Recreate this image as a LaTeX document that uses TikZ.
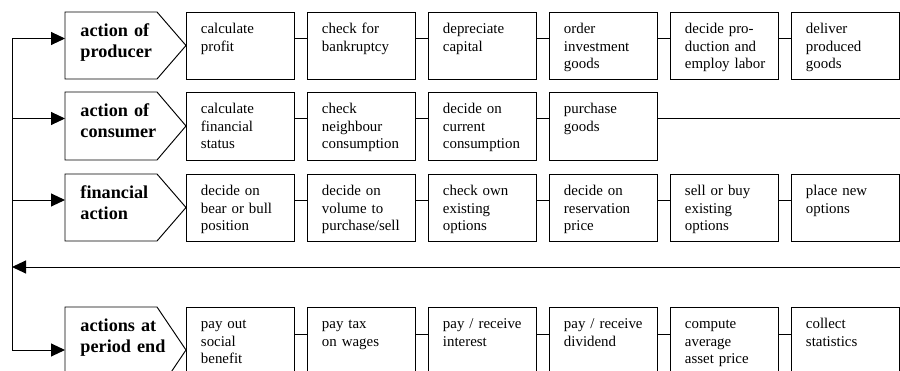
\documentclass[tikz,border=0pt]{standalone}
\usepackage{fontspec}
\setmainfont{Liberation Serif}
\usetikzlibrary{arrows.meta}
\begin{document}
\begin{tikzpicture}[x=1pt,y=-1pt,line width=0.95pt,
  box/.style={draw,rectangle,minimum width=108pt,minimum height=#1,inner sep=0pt,anchor=north west},
  box/.default=67pt,
  btxt/.style={anchor=north west,inner sep=0pt,text width=90pt,align=left,
    font=\fontsize{14.9}{17.5}\selectfont,execute at begin node=\strut},
  ltxt/.style={anchor=north west,inner sep=0pt,text width=100pt,align=left,
    font=\bfseries\fontsize{18.2}{21}\selectfont,execute at begin node=\strut},
  arr/.style={-{Triangle[length=14pt,width=13pt]}},
  conn/.style={draw}]
\useasboundingbox (0,0) rectangle (900,371);
\clip (0,0) rectangle (900,371);

% row connector levels (right edge coordinates)
\coordinate (c1) at (900,38.5);
\coordinate (c2) at (900,118.5);
\coordinate (c3) at (900,200);
\coordinate (c4) at (900,334);

% pentagon entry points and trunk
\coordinate (p1w) at (65,38.5);
\coordinate (p2w) at (65,118.5);
\coordinate (p3w) at (65,200);
\coordinate (p4w) at (65,350);
\coordinate (t1) at (12,38.5);
\coordinate (t2) at (12,118.5);
\coordinate (t3) at (12,200);
\coordinate (t4) at (12,350);
\coordinate (retR) at (900,267);
\coordinate (retL) at (12,267);

% pentagons
\draw (65,12) -- (157,12) -- (186,45.5) -- (157,79) -- (65,79) -- cycle;
\draw (65,92) -- (157,92) -- (186,126) -- (157,160) -- (65,160) -- cycle;
\draw (65,174) -- (157,174) -- (186,207.5) -- (157,241) -- (65,241) -- cycle;
\draw (65,307) -- (157,307) -- (186,350) -- (157,393) -- (65,393) -- cycle;

\node[ltxt] (l1) at (80,21.8) {action of\\producer};
\node[ltxt] (l2) at (80,101.8) {action of\\consumer};
\node[ltxt] (l3) at (80,183.8) {financial\\action};
\node[ltxt] (l4) at (80,316.8) {actions at\\period end};

% row 1
\node[box] (b11) at (186,12) {};
\node[box] (b12) at (307,12) {};
\node[box] (b13) at (428,12) {};
\node[box] (b14) at (549,12) {};
\node[box] (b15) at (670,12) {};
\node[box] (b16) at (791,12) {};
% row 2
\node[box=68pt] (b21) at (186,92) {};
\node[box=68pt] (b22) at (307,92) {};
\node[box=68pt] (b23) at (428,92) {};
\node[box=68pt] (b24) at (549,92) {};
% row 3
\node[box] (b31) at (186,174) {};
\node[box] (b32) at (307,174) {};
\node[box] (b33) at (428,174) {};
\node[box] (b34) at (549,174) {};
\node[box] (b35) at (670,174) {};
\node[box] (b36) at (791,174) {};
% row 4
\node[box=86pt] (b41) at (186,307) {};
\node[box=86pt] (b42) at (307,307) {};
\node[box=86pt] (b43) at (428,307) {};
\node[box=86pt] (b44) at (549,307) {};
\node[box=86pt] (b45) at (670,307) {};
\node[box=86pt] (b46) at (791,307) {};

% texts
\node[btxt] (x11) at ([shift={(14.5,9)}]b11.north west) {calculate\\profit};
\node[btxt] (x12) at ([shift={(14.5,9)}]b12.north west) {check for\\bankruptcy};
\node[btxt] (x13) at ([shift={(14.5,9)}]b13.north west) {depreciate\\capital};
\node[btxt] (x14) at ([shift={(14.5,9)}]b14.north west) {order\\investment\\goods};
\node[btxt] (x15) at ([shift={(14.5,9)}]b15.north west) {decide pro-\\duction and\\employ labor};
\node[btxt] (x16) at ([shift={(14.5,9)}]b16.north west) {deliver\\produced\\goods};

\node[btxt] (x21) at ([shift={(14.5,9)}]b21.north west) {calculate\\financial\\status};
\node[btxt] (x22) at ([shift={(14.5,9)}]b22.north west) {check\\neighbour\\consumption};
\node[btxt] (x23) at ([shift={(14.5,9)}]b23.north west) {decide on\\current\\consumption};
\node[btxt] (x24) at ([shift={(14.5,9)}]b24.north west) {purchase\\goods};

\node[btxt] (x31) at ([shift={(14.5,9)}]b31.north west) {decide on\\bear or bull\\position};
\node[btxt] (x32) at ([shift={(14.5,9)}]b32.north west) {decide on\\volume to\\purchase/sell};
\node[btxt] (x33) at ([shift={(14.5,9)}]b33.north west) {check own\\existing\\options};
\node[btxt] (x34) at ([shift={(14.5,9)}]b34.north west) {decide on\\reservation\\price};
\node[btxt] (x35) at ([shift={(14.5,9)}]b35.north west) {sell or buy\\existing\\options};
\node[btxt] (x36) at ([shift={(14.5,9)}]b36.north west) {place new\\options};

\node[btxt] (x41) at ([shift={(14.5,9)}]b41.north west) {pay out\\social\\benefit};
\node[btxt] (x42) at ([shift={(14.5,9)}]b42.north west) {pay tax\\on wages};
\node[btxt] (x43) at ([shift={(14.5,9)}]b43.north west) {pay / receive\\interest};
\node[btxt] (x44) at ([shift={(14.5,9)}]b44.north west) {pay / receive\\dividend};
\node[btxt] (x45) at ([shift={(14.5,9)}]b45.north west) {compute\\average\\asset price};
\node[btxt] (x46) at ([shift={(14.5,9)}]b46.north west) {collect\\statistics};

% connectors between boxes
\draw (b11.east |- c1) -- (b12.west |- c1);
\draw (b12.east |- c1) -- (b13.west |- c1);
\draw (b13.east |- c1) -- (b14.west |- c1);
\draw (b14.east |- c1) -- (b15.west |- c1);
\draw (b15.east |- c1) -- (b16.west |- c1);
\draw (b16.east |- c1) -- (c1);

\draw (b21.east |- c2) -- (b22.west |- c2);
\draw (b22.east |- c2) -- (b23.west |- c2);
\draw (b23.east |- c2) -- (b24.west |- c2);
\draw (b24.east |- c2) -- (c2);

\draw (b31.east |- c3) -- (b32.west |- c3);
\draw (b32.east |- c3) -- (b33.west |- c3);
\draw (b33.east |- c3) -- (b34.west |- c3);
\draw (b34.east |- c3) -- (b35.west |- c3);
\draw (b35.east |- c3) -- (b36.west |- c3);
\draw (b36.east |- c3) -- (c3);

\draw (b41.east |- c4) -- (b42.west |- c4);
\draw (b42.east |- c4) -- (b43.west |- c4);
\draw (b43.east |- c4) -- (b44.west |- c4);
\draw (b44.east |- c4) -- (b45.west |- c4);
\draw (b45.east |- c4) -- (b46.west |- c4);
\draw (b46.east |- c4) -- (c4);

% trunk and arrows
\draw (t1) -- (t4);
\draw[arr] (t1) -- (p1w);
\draw[arr] (t2) -- (p2w);
\draw[arr] (t3) -- (p3w);
\draw[arr] (t4) -- (p4w);
\draw[arr] (retR) -- (retL);
\end{tikzpicture}
\end{document}
